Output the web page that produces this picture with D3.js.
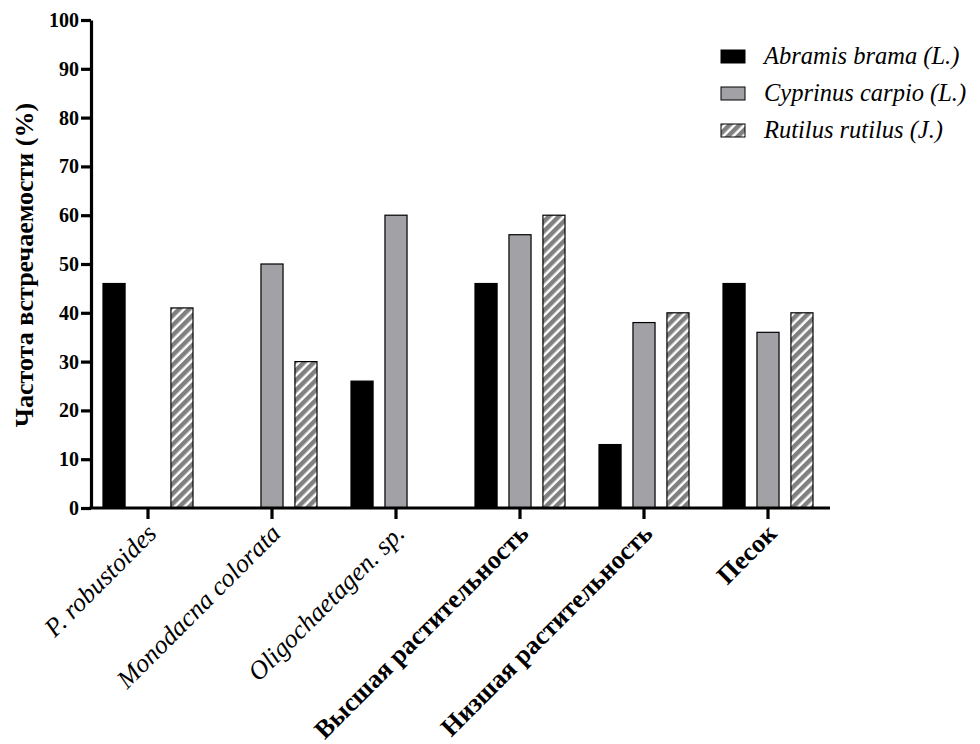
<!DOCTYPE html>
<html>
<head>
<meta charset="utf-8">
<script src="https://cdn.jsdelivr.net/npm/d3@7"></script>
<style>
  html, body { margin: 0; padding: 0; background: #fff; }
  svg { display: block; }
  text { font-family: "Liberation Serif", "DejaVu Serif", serif; }
</style>
</head>
<body>
<svg id="chart" width="980" height="744"></svg>
<script>
const categories = ["P. robustoides", "Monodacna colorata", "Oligochaetagen. sp.", "Высшая растительность", "Низшая растительность", "Песок"];
const categoryItalic = [true, true, true, false, false, false];
const seriesNames = ["Abramis brama (L.)", "Cyprinus carpio (L.)", "Rutilus rutilus (J.)"];
const abramis = [46, 0, 26, 46, 13, 46];
const cyprinus = [0, 50, 60, 56, 38, 36];
const rutilus = [41, 30, 0, 60, 40, 40];
const yTicks = [0, 10, 20, 30, 40, 50, 60, 70, 80, 90, 100];
const yLabel = "Частота встречаемости (%)";

const seriesValues = [abramis, cyprinus, rutilus];
const FONT = "'Liberation Serif', 'Times New Roman', serif";
const svg = d3.select("#chart");

const defs = svg.append("defs");
const pat = defs.append("pattern")
  .attr("id", "stripes")
  .attr("patternUnits", "userSpaceOnUse")
  .attr("width", 7).attr("height", 7)
  .attr("patternTransform", "rotate(45)");
pat.append("rect").attr("width", 7).attr("height", 7).attr("fill", "#ffffff");
pat.append("rect").attr("width", 4.5).attr("height", 7).attr("fill", "#808080");

const fills = ["#000000", "#a2a2a6", "url(#stripes)"];

const y = d3.scaleLinear().domain([0, 100]).range([508, 20]);
const x = d3.scaleBand().domain(categories).range([86, 830]).paddingInner(0).paddingOuter(0);
const xs = d3.scaleBand().domain(d3.range(3)).range([17, 107]).paddingInner(0.35).paddingOuter(0);

// bars
categories.forEach((c, ci) => {
  seriesValues.forEach((vals, si) => {
    const v = vals[ci];
    if (v <= 0) return;
    svg.append("rect")
      .attr("x", x(c) + xs(si))
      .attr("y", y(v))
      .attr("width", xs.bandwidth())
      .attr("height", y(0) - y(v))
      .attr("fill", fills[si])
      .attr("stroke", "#000")
      .attr("stroke-width", 1.2);
  });
});

// y axis
const yAxis = d3.axisLeft(y).tickValues(yTicks).tickSize(10).tickPadding(2).tickSizeOuter(0);
const gy = svg.append("g").attr("transform", "translate(91,0)").call(yAxis);
gy.attr("font-family", FONT);
gy.select(".domain").attr("stroke", "#000").attr("stroke-width", 3.2);
gy.selectAll(".tick line").attr("stroke", "#000").attr("stroke-width", 3.2);
gy.selectAll(".tick text")
  .attr("fill", "#000")
  .attr("font-family", FONT)
  .attr("font-size", 20)
  .attr("font-weight", "bold");

// x axis
const xAxis = d3.axisBottom(x).tickSize(11).tickSizeOuter(0).tickFormat("");
const gx = svg.append("g").attr("transform", "translate(0,508)").call(xAxis);
gx.select(".domain").attr("stroke", "#000").attr("stroke-width", 3.2).attr("d", "M89.5,0H830");
gx.selectAll(".tick line").attr("stroke", "#000").attr("stroke-width", 3.2);

// x labels
categories.forEach((c, ci) => {
  const cx = x(c) + x.bandwidth() / 2;
  svg.append("text")
    .attr("transform", `translate(${cx + 10},${535}) rotate(-45)`)
    .attr("text-anchor", "end")
    .attr("font-family", FONT)
    .attr("font-size", 26)
    .attr("font-style", categoryItalic[ci] ? "italic" : "normal")
    .attr("font-weight", categoryItalic[ci] ? "normal" : "bold")
    .attr("fill", "#000")
    .text(c);
});

// y label
svg.append("text")
  .attr("transform", "translate(33,265) rotate(-90)")
  .attr("text-anchor", "middle")
  .attr("font-family", FONT)
  .attr("font-size", 26)
  .attr("font-weight", "bold")
  .attr("fill", "#000")
  .text(yLabel);

// legend
const lg = svg.append("g");
seriesNames.forEach((n, i) => {
  const yy = 50 + i * 37;
  lg.append("rect").attr("x", 721).attr("y", yy).attr("width", 24).attr("height", 13)
    .attr("fill", fills[i]).attr("stroke", "#000").attr("stroke-width", 1);
  lg.append("text").attr("x", 764).attr("y", yy + 14)
    .attr("font-family", FONT)
    .attr("font-size", 24.5).attr("font-style", "italic")
    .attr("fill", "#000").text(n);
});
</script>
</body>
</html>
